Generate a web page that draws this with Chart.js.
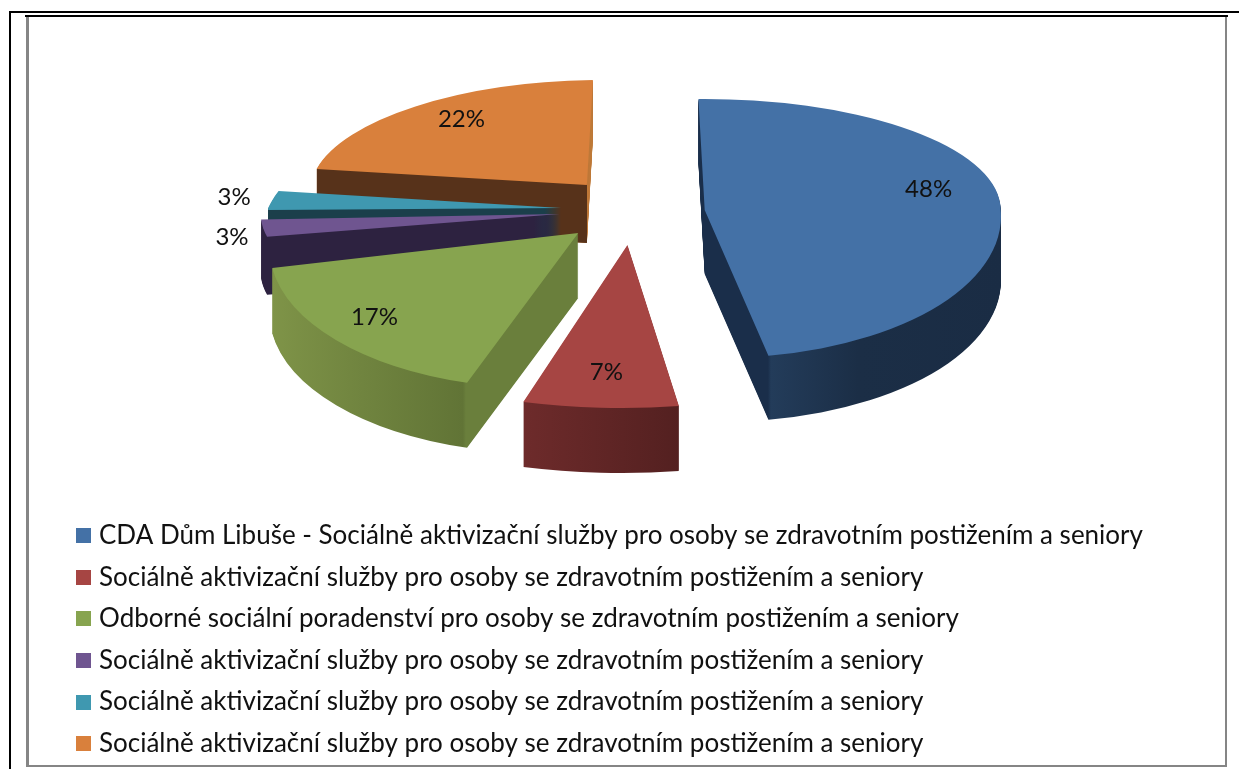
<!DOCTYPE html>
<html><head><meta charset="utf-8">
<style>
html,body{margin:0;padding:0;background:#fff;overflow:hidden}
#wrap{position:absolute;left:0;top:0;width:1239px;height:769px}
canvas{position:absolute;left:0;top:0}
.f{position:absolute}
</style></head><body>
<div id="wrap">
<div class="f" style="left:9px;top:11px;width:1230px;height:2px;background:#000"></div>
<div class="f" style="left:9px;top:11px;width:2px;height:758px;background:#000"></div>
<div class="f" style="left:25px;top:15px;width:1203px;height:2px;background:#000"></div>
<div class="f" style="left:26px;top:17px;width:3px;height:750px;background:#858585"></div>
<div class="f" style="left:1225px;top:17px;width:2px;height:750px;background:#858585"></div>
<div class="f" style="left:26px;top:765px;width:1201px;height:2px;background:#858585"></div>
<canvas id="c" width="1239" height="769"></canvas>
</div>
<script src="https://cdn.jsdelivr.net/npm/chart.js@4"></script>
<script>
const categories = [
 "CDA Dům Libuše - Sociálně aktivizační služby pro osoby se zdravotním postižením a seniory",
 "Sociálně aktivizační služby pro osoby se zdravotním postižením a seniory",
 "Odborné sociální poradenství pro osoby se zdravotním postižením a seniory",
 "Sociálně aktivizační služby pro osoby se zdravotním postižením a seniory",
 "Sociálně aktivizační služby pro osoby se zdravotním postižením a seniory",
 "Sociálně aktivizační služby pro osoby se zdravotním postižením a seniory"
];
const values = [48, 7, 17, 3, 3, 22];
const topColors = ["#4471a6","#a64543","#87a44f","#6f5590","#3f98b0","#d9803c"];
const wallStops = [
 [[0,"#1a2e4a"],[0.2,"#1a2e4a"],[0.21,"#233c5a"],[0.5,"#1b2e46"],[1,"#1a2c44"]],
 [[0,"#6e2b2b"],[1,"#532020"]],
 [[0,"#7f9448"],[0.7,"#617436"],[0.71,"#6a7f3c"],[1,"#6a7f3c"]],
 [[0,"#2d2240"],[1,"#2d2240"]],
 [[0,"#1b3f4b"],[1,"#1b3f4b"]],
 [[0,"#57321a"],[1,"#57321a"]]
];
const farWall = [null, null, null, null, null, "#bf7a3b"];
/* exploded-pie offsets and the per-slice 3D look (perspective: near slices look wider) */
const explode = [65, 60, 85, 82, 82, 83];
const depth   = [64, 65, 65, 58, 58, 58];
const nudgeX  = [0, -9, 0, 1, 3, 2];
const nudgeY  = [-2, 3, -8, -6, -5, -2];
const radX    = [296, 372, 308, 299, 293, 276];
const radUp   = [111, 111, 111, 111, 124, 105];
const radLow  = [148, 163, 156, 110, 110, 110];
const shearUp = [0, 0, 0, 0, -0.45, -0.15];
const shearLow= [0.085, -0.03, -0.17, 0, 0, 0];
const labelAt = [0.76, 0.78, 0.78, 1.095, 1.1, 0.72];
const labelDY = [-13, 0, 1, 8, -3, -9];
const labelDX = [0, 0, -15, -3, -9, -2];
const drawOrder = [5, 4, 3, 2, 0, 1];
const view = {cx:640, cy:215, flat:0.45};

function frame(arc, i){
  const a = (arc.startAngle + arc.endAngle)/2, e = arc.options.offset, t = e/4;
  const circ = arc.circumference;
  const rad = arc.outerRadius + t*(1 - Math.sin(Math.min(Math.PI, circ)));
  return {
    a, rad,
    ax: view.cx + e*Math.cos(a) + nudgeX[i],
    ay: Math.round(view.cy + e*Math.sin(a)*view.flat + nudgeY[i]),
    Xa: arc.x + t*Math.cos(a), Ya: arc.y + t*Math.sin(a),
    kx: radX[i]/rad, ku: radUp[i]/rad, kl: radLow[i]/rad
  };
}
function paint(ctx, chart, arc, i, dy){
  const f = frame(arc, i), y0 = f.ay + dy, H = chart.height, W = chart.width;
  [[0, y0, f.ku, shearUp[i]],[y0, H - y0, f.kl, shearLow[i]]].forEach(([top,h,ky,s])=>{
    ctx.save();
    ctx.beginPath(); ctx.rect(0, top, W, h); ctx.clip();
    const c = s*ky;
    ctx.setTransform(f.kx, 0, c, ky, f.ax - f.kx*f.Xa - c*f.Ya, y0 - ky*f.Ya);
    arc.draw(ctx);
    ctx.restore();
  });
}
function wallGradient(ctx, arc, i){
  const f = frame(arc, i), xs = [arc.x, arc.x + f.rad*Math.cos(arc.startAngle), arc.x + f.rad*Math.cos(arc.endAngle)];
  const tau = 2*Math.PI;
  const hits = k => { const s = arc.startAngle, e = arc.endAngle; const n = Math.ceil((s - k*Math.PI)/tau); return k*Math.PI + n*tau <= e; };
  if (hits(0)) xs.push(arc.x + f.rad);
  if (hits(1)) xs.push(arc.x - f.rad);
  const g = ctx.createLinearGradient(Math.min(...xs), 0, Math.max(...xs), 0);
  wallStops[i].forEach(([p,c])=>g.addColorStop(p, c));
  return g;
}
const pie3d = {
  id:'pie3d',
  beforeDatasetDraw(chart){
    const ctx = chart.ctx, meta = chart.getDatasetMeta(0);
    drawOrder.forEach(i=>{
      const arc = meta.data[i], base = arc.options, f = frame(arc, i);
      if (farWall[i]) {
        arc.options = Object.assign({}, base, {backgroundColor:farWall[i], borderWidth:0});
        for (let d = depth[i]; d > 0; d--) paint(ctx, chart, arc, i, d);
      }
      arc.options = Object.assign({}, base, {backgroundColor:wallGradient(ctx, arc, i), borderWidth:0});
      ctx.save();
      if (farWall[i]) { ctx.beginPath(); ctx.rect(0, 0, f.ax, chart.height); ctx.clip(); }
      for (let d = depth[i]; d > 0; d--) paint(ctx, chart, arc, i, d);
      ctx.restore();
      arc.options = Object.assign({}, base, {borderWidth:0});
      paint(ctx, chart, arc, i, 0);
      arc.options = base;
    });
    return false;
  },
  afterDatasetsDraw(chart){
    const ctx = chart.ctx, meta = chart.getDatasetMeta(0);
    ctx.save();
    ctx.font = '24px Lato'; ctx.fillStyle = '#111';
    ctx.textAlign = 'center'; ctx.textBaseline = 'middle';
    meta.data.forEach((arc,i)=>{
      const f = frame(arc, i), sx = Math.cos(f.a)*labelAt[i], sy = Math.sin(f.a)*labelAt[i];
      const dy = sy*(sy < 0 ? radUp[i] : radLow[i]);
      const dx = sx*radX[i] + dy*(sy < 0 ? shearUp[i] : shearLow[i]);
      ctx.fillText(values[i] + '%', f.ax + dx + labelDX[i], f.ay + dy + labelDY[i]);
    });
    ctx.restore();
  }
};
function swatch(color){
  const s = document.createElement('canvas'); s.width = 15; s.height = 15;
  const x = s.getContext('2d'); x.fillStyle = color; x.fillRect(0,0,15,15);
  return s;
}
new Chart(document.getElementById('c'), {
  type:'pie',
  data:{labels:categories, datasets:[{data:values, backgroundColor:topColors, borderWidth:0, offset:explode}]},
  options:{
    responsive:false, animation:false, rotation:-2, radius:150,
    layout:{padding:{left:65.4, right:0, top:0, bottom:2.4}},
    plugins:{
      tooltip:{enabled:false},
      legend:{position:'bottom', align:'start',
        labels:{boxHeight:15, usePointStyle:true, pointStyleWidth:5, padding:15.6, color:'#111',
          font:{family:'Lato', size:26},
          generateLabels(){ return categories.map((t,i)=>({text:t, fillStyle:topColors[i], pointStyle:swatch(topColors[i]), fontColor:'#111', index:i, hidden:false, lineWidth:0})); }
        }}
    }
  },
  plugins:[pie3d]
});
</script>
</body></html>
